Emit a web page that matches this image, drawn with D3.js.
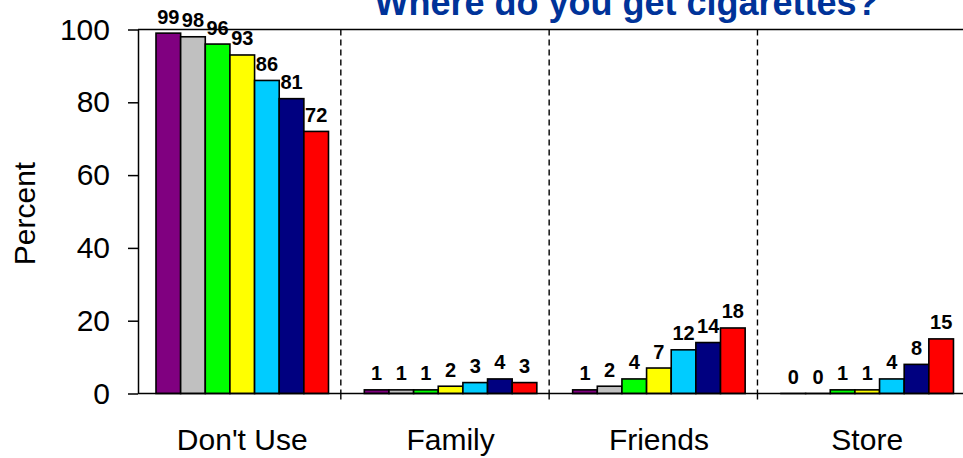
<!DOCTYPE html>
<html>
<head>
<meta charset="utf-8">
<script src="https://cdn.jsdelivr.net/npm/d3@7/dist/d3.min.js"></script>
<style>
  html, body { margin: 0; padding: 0; background: #fff; }
  svg { display: block; }
  text { font-family: "Liberation Sans", Arial, Helvetica, sans-serif; }
</style>
</head>
<body>
<svg id="chart" width="963" height="458"></svg>
<script>
// Source of cigarettes, percent of respondents per group
const categories = ["Don't Use", "Family", "Friends", "Store"];
const groupColors = ["#800080", "#C0C0C0", "#00FF00", "#FFFF00", "#00CCFF", "#000080", "#FF0000"];
const dontUse = [99, 98, 96, 93, 86, 81, 72];
const family  = [1, 1, 1, 2, 3, 4, 3];
const friends = [1, 2, 4, 7, 12, 14, 18];
const store   = [0, 0, 1, 1, 4, 8, 15];
const yTicks  = [0, 20, 40, 60, 80, 100];
const titleText = "Where do you get cigarettes?";
const yLabel = "Percent";

const seriesByCategory = [dontUse, family, friends, store];
const rows = [];
categories.forEach((cat, ci) => {
  seriesByCategory[ci].forEach((v, gi) => rows.push({ cat, group: gi, value: v }));
});

const svg = d3.select("#chart");

// Scales
const y = d3.scaleLinear().domain([0, 100]).range([393.5, 29.5]);
const xCat = d3.scaleBand().domain(categories).range([132.5, 965.8]);
const xGroup = d3.scaleBand().domain(d3.range(groupColors.length)).range([23.5, 196]);
const axisX = 138;
const rightEdge = xCat.range()[1];
const groupCenter = (xGroup.range()[0] + xGroup.range()[1]) / 2;

// Dashed separators between categories
const seps = categories.slice(1).map(c => xCat(c));
svg.append("g").selectAll("line").data(seps).join("line")
  .attr("x1", d => d).attr("x2", d => d)
  .attr("y1", y(100)).attr("y2", y(0))
  .attr("stroke", "#000").attr("stroke-width", 1.4)
  .attr("stroke-dasharray", "6,4");

// Bottom category ticks
svg.append("g").selectAll("line").data(seps).join("line")
  .attr("x1", d => d).attr("x2", d => d)
  .attr("y1", y(0)).attr("y2", y(0) + 6)
  .attr("stroke", "#000").attr("stroke-width", 1.4);

// Bars (zero-valued bars still show their outline on the baseline)
svg.append("g").selectAll("rect").data(rows).join("rect")
  .attr("x", d => xCat(d.cat) + xGroup(d.group))
  .attr("width", xGroup.bandwidth())
  .attr("y", d => y(d.value))
  .attr("height", d => Math.max(y(0) - y(d.value), 0.01))
  .attr("fill", d => groupColors[d.group])
  .attr("stroke", "#000").attr("stroke-width", 1.6);

// Value labels
svg.append("g").selectAll("text").data(rows).join("text")
  .attr("x", d => xCat(d.cat) + xGroup(d.group) + xGroup.bandwidth() / 2)
  .attr("y", d => y(d.value) - 9.5)
  .attr("text-anchor", "middle")
  .attr("font-size", 20).attr("font-weight", "bold")
  .attr("fill", "#000")
  .text(d => d3.format(".0f")(d.value));

// Top and bottom frame lines
svg.append("g").selectAll("line").data([0, 100]).join("line")
  .attr("x1", axisX).attr("x2", rightEdge)
  .attr("y1", d => y(d)).attr("y2", d => y(d))
  .attr("stroke", "#000").attr("stroke-width", 1.5);

// Y axis
const yAxis = svg.append("g")
  .attr("transform", `translate(${axisX},0)`)
  .call(d3.axisLeft(y).tickValues(yTicks).tickSize(10).tickSizeOuter(0).tickPadding(18));
yAxis.select(".domain").attr("stroke", "#000").attr("stroke-width", 1.5);
yAxis.selectAll(".tick line").attr("stroke", "#000").attr("stroke-width", 1.5);
yAxis.selectAll(".tick text")
  .attr("font-size", 30)
  .attr("font-family", "'Liberation Sans', Arial, sans-serif")
  .attr("fill", "#000");

// Category labels
svg.append("g").selectAll("text").data(categories).join("text")
  .attr("x", d => xCat(d) + groupCenter)
  .attr("y", 450)
  .attr("text-anchor", "middle")
  .attr("font-size", 30)
  .attr("fill", "#000")
  .text(d => d);

// Y axis title
svg.append("text")
  .attr("transform", "translate(35,213.5) rotate(-90)")
  .attr("text-anchor", "middle")
  .attr("font-size", 30)
  .attr("fill", "#000")
  .text(yLabel);

// Chart title
svg.append("text")
  .attr("x", 626.5).attr("y", 15)
  .attr("text-anchor", "middle")
  .attr("font-size", 36).attr("font-weight", "bold")
  .attr("fill", "#003399")
  .text(titleText);
</script>
</body>
</html>
